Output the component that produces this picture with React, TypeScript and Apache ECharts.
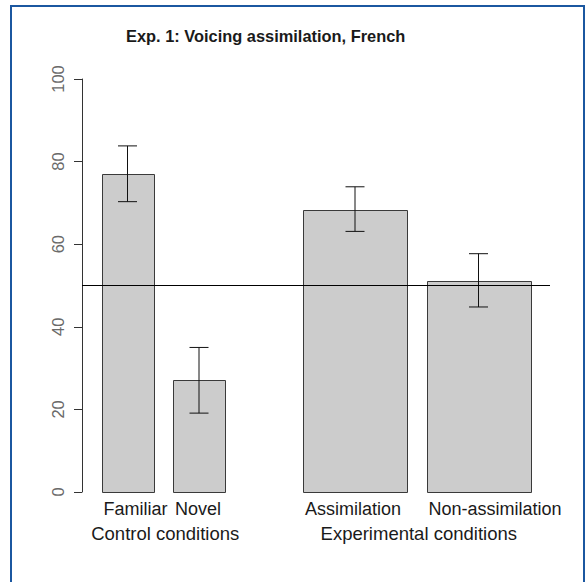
import React, { useEffect, useRef } from "react";
import * as echarts from "echarts";

// ---- data ----
const categories = ["Familiar", "Novel", "Assimilation", "Non-assimilation"];
const means = [77.0, 27.0, 68.4, 51.2];
const errLow = [70.3, 19.1, 63.1, 44.8];
const errHigh = [83.8, 35.0, 73.9, 57.7];
const barWidths = [1, 1, 2, 2];
const barSpaces = [0.25, 0.25, 1, 0.25];
const groupNames = ["Control conditions", "Experimental conditions"];
const groupOf = [0, 0, 1, 1];
const chanceLevel = 50;
const titleText = "Exp. 1: Voicing assimilation, French";

const FONT = "'Liberation Sans', Arial, Helvetica, sans-serif";

export default function App() {
  const ref = useRef<HTMLDivElement>(null);
  useEffect(() => {
    if (!ref.current) return;
    const chart = echarts.init(ref.current, undefined, { renderer: "svg" });

    const meanW = barWidths.reduce((a, b) => a + b, 0) / barWidths.length;
    let cursor = 0;
    const barRows: number[][] = [];
    for (let i = 0; i < categories.length; i++) {
      cursor += barSpaces[i] * meanW;
      const left = cursor;
      const right = cursor + barWidths[i];
      cursor = right;
      barRows.push([(left + right) / 2, means[i], errLow[i], errHigh[i], left, right]);
    }
    const groupRows = groupNames.map((_, g) => {
      const idx = groupOf.map((v, i) => (v === g ? i : -1)).filter((i) => i >= 0);
      const l = Math.min(...idx.map((i) => barRows[i][4]));
      const r = Math.max(...idx.map((i) => barRows[i][5]));
      return [(l + r) / 2, 0];
    });
    const xMin = 0;
    const xMax = 9;

    chart.setOption({
      animation: false,
      backgroundColor: "#ffffff",
      title: {
        text: titleText,
        left: 126,
        top: 28,
        padding: 0,
        textStyle: { fontFamily: FONT, fontSize: 16.4, fontWeight: "bold", color: "#1a1a1a" },
      },
      graphic: [
        {
          type: "rect",
          shape: { x: 11, y: 6, width: 573, height: 620 },
          style: { fill: "none", stroke: "#1b57a0", lineWidth: 2 },
          silent: true,
        },
      ],
      grid: { left: 82, right: 38, top: 79, bottom: 90 },
      xAxis: {
        type: "value",
        min: xMin,
        max: xMax,
        show: false,
      },
      yAxis: {
        type: "value",
        min: 0,
        max: 100,
        interval: 20,
        splitLine: { show: false },
        axisLine: { show: true, lineStyle: { color: "#333", width: 1 } },
        axisTick: { show: true, length: 8, lineStyle: { color: "#333", width: 1 } },
        axisLabel: {
          rotate: 90,
          margin: 16,
          fontSize: 16.5,
          color: "#6a6a6a",
          fontFamily: FONT,
        },
      },
      series: [
        {
          type: "custom",
          z: 2,
          data: barRows,
          encode: { x: 0, y: 1 },
          renderItem: (params: any, api: any) => {
            const i = params.dataIndex;
            const base = api.coord([api.value(4), 0]);
            const top = api.coord([api.value(5), api.value(1)]);
            const lo = api.coord([api.value(0), api.value(2)]);
            const hi = api.coord([api.value(0), api.value(3)]);
            const cap = 9.5;
            return {
              type: "group",
              children: [
                {
                  type: "rect",
                  shape: {
                    x: Math.round(base[0]) + 0.5,
                    y: Math.round(top[1]) + 0.5,
                    width: Math.round(top[0] - base[0]),
                    height: Math.round(base[1] - top[1]),
                  },
                  style: { fill: "#cccccc", stroke: "#3a3a3a", lineWidth: 1 },
                },
                {
                  type: "line",
                  shape: { x1: lo[0], y1: lo[1], x2: hi[0], y2: hi[1] },
                  style: { stroke: "#111", lineWidth: 1 },
                },
                {
                  type: "line",
                  shape: { x1: lo[0] - cap, y1: lo[1], x2: lo[0] + cap, y2: lo[1] },
                  style: { stroke: "#111", lineWidth: 1 },
                },
                {
                  type: "line",
                  shape: { x1: hi[0] - cap, y1: hi[1], x2: hi[0] + cap, y2: hi[1] },
                  style: { stroke: "#111", lineWidth: 1 },
                },
                {
                  type: "text",
                  x: base[0] + 2,
                  y: base[1] + 17,
                  style: {
                    text: categories[i],
                    fill: "#1a1a1a",
                    font: `18px ${FONT}`,
                    align: "left",
                    textAlign: "left",
                    verticalAlign: "middle",
                    textVerticalAlign: "middle",
                  },
                },
              ],
            };
          },
        },
        {
          type: "custom",
          z: 2,
          data: groupRows,
          encode: { x: 0, y: 1 },
          renderItem: (params: any, api: any) => {
            const p = api.coord([api.value(0), api.value(1)]);
            return {
              type: "text",
              x: p[0] + 2,
              y: p[1] + 41.5,
              style: {
                text: groupNames[params.dataIndex],
                fill: "#1a1a1a",
                font: `18.5px ${FONT}`,
                align: "center",
                textAlign: "center",
                verticalAlign: "middle",
                textVerticalAlign: "middle",
              },
            };
          },
        },
        {
          type: "line",
          z: 5,
          symbol: "none",
          data: [
            [xMin, chanceLevel],
            [xMax, chanceLevel],
          ],
          lineStyle: { color: "#000", width: 1 },
        },
      ],
    });
    return () => chart.dispose();
  }, []);

  return (
    <div
      ref={ref}
      style={{ position: "fixed", left: 0, top: 0, width: 588, height: 582 }}
    />
  );
}
